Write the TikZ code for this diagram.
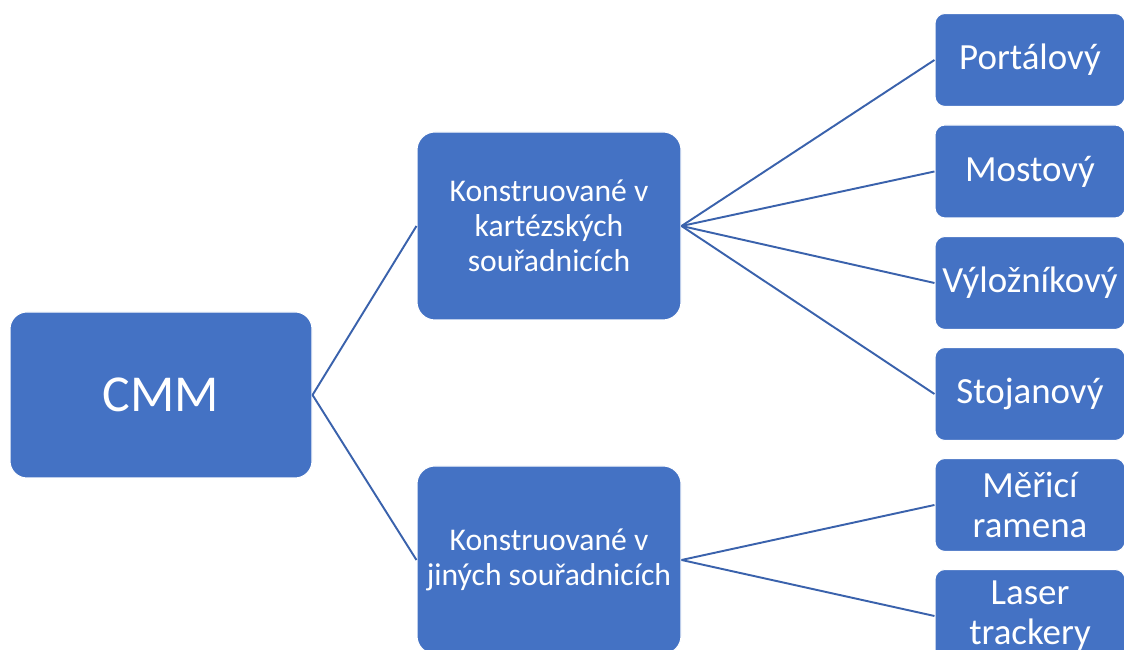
\documentclass[tikz,border=0pt]{standalone}
\usepackage{fontspec}
\setmainfont{Carlito}
\definecolor{boxblue}{HTML}{4472C4}
\definecolor{lineblue}{HTML}{3A62AC}
\begin{document}
\begin{tikzpicture}[
  box/.style={fill=boxblue, draw=white, line width=0.6pt, text=white, align=center, inner sep=0pt},
  rootbox/.style={box, minimum width=6.04cm, minimum height=3.32cm, rounded corners=0.34cm, font=\fontsize{29.5}{34}\selectfont},
  midbox/.style={box, minimum width=5.28cm, minimum height=3.76cm, rounded corners=0.36cm, font=\fontsize{18}{20}\selectfont},
  leafbox/.style={box, minimum width=3.8cm, minimum height=1.86cm, rounded corners=0.2cm, font=\fontsize{21}{22.7}\selectfont},
  link/.style={draw=lineblue, line width=1.1pt}]
\useasboundingbox (0,0) rectangle (22.48,13);
\begin{scope}
\clip (0,0) rectangle (22.48,13);

% root
\node[rootbox] (cmm) at (3.22,5.10) {CMM};

% two kinds
\node[midbox] (kart) at (10.98,8.48) {Konstruované v\\kartézských\\souřadnicích};
\node[midbox] (jine) at (10.98,1.80) {Konstruované v\\jiných souřadnicích};

% leaves
\node[leafbox] (portal) at (20.6,11.80) {Portálový};
\node[leafbox] (most) at (20.6,9.57) {Mostový};
\node[leafbox] (vylož) at (20.6,7.34) {Výložníkový};
\node[leafbox] (stojan) at (20.6,5.12) {Stojanový};
\node[leafbox] (ramena) at (20.6,2.90) {Měřicí\\ramena};
\node[leafbox] (laser) at (20.6,0.68) {Laser\\trackery};

\draw[link] (cmm.east) -- (kart.west);
\draw[link] (cmm.east) -- (jine.west);
\foreach \leaf in {portal,most,vylož,stojan}
  \draw[link] (kart.east) -- (\leaf.west);
\foreach \leaf in {ramena,laser}
  \draw[link] (jine.east) -- (\leaf.west);
\end{scope}
\end{tikzpicture}
\end{document}
